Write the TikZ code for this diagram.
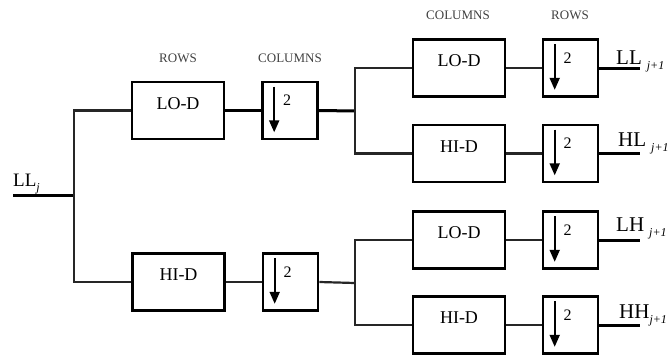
\documentclass[tikz,border=0pt]{standalone}
\usepackage{fontspec}
\setmainfont{Liberation Serif}
\usetikzlibrary{positioning, arrows.meta}

\newcommand{\lowsub}[1]{\raisebox{-5pt}{\fontsize{12}{13}\selectfont\itshape #1}}

\begin{document}
\begin{tikzpicture}[
    x=1pt, y=-1pt,
    every node/.style={font=\fontsize{18}{20}\selectfont},
    filter/.style={draw, line width=2.6pt, minimum width=92pt,
                   minimum height=57pt, inner sep=0pt},
    downbox/.style={draw, line width=2.6pt, minimum width=55pt,
                    minimum height=57pt, inner sep=0pt},
    stage/.style={font=\fontsize{13}{14}\selectfont, text=black!75},
    sig/.style={font=\fontsize{21}{23}\selectfont, anchor=base west,
                inner sep=0pt},
    wire/.style={line width=2.2pt, black!85},
    thickwire/.style={line width=3pt},
    down/.style={line width=2pt, -{Triangle[length=12pt, width=10pt]}},
]
\useasboundingbox (0,0) rectangle (668,356);

% First level (rows, then columns)
\node[filter, label={[yshift=7pt]center:LO-D}] (fa) at (178,110.5) {};
\node[downbox] (da) at (290,110.5) {};
\node[filter, label={[yshift=7pt]center:HI-D}] (fb) at (178.5,282) {};
\node[downbox] (db) at (290.5,282) {};

\node[stage] (rowsA) at (178,58) {ROWS};
\node[stage] (colsA) at (290,58) {COLUMNS};

% Second level (columns, then rows)
\node[filter, label={[yshift=7pt]center:LO-D}] (f1) at (459,68) {};
\node[downbox] (d1) at (570.5,68) {};
\node[filter, label={[yshift=7pt]center:HI-D}] (f2) at (459,153.5) {};
\node[downbox] (d2) at (570.5,153.5) {};
\node[filter, label={[yshift=7pt]center:LO-D}] (f3) at (459,240) {};
\node[downbox] (d3) at (570.5,240) {};
\node[filter, label={[yshift=7pt]center:HI-D}] (f4) at (459,325) {};
\node[downbox] (d4) at (570.5,325) {};

\node[stage] (colsB) at (458,15) {COLUMNS};
\node[stage] (rowsB) at (570,15) {ROWS};

% Downsampling marks
\foreach \b in {da,db,d1,d2,d3,d4} {
  \draw[down] ([xshift=13pt, yshift=-6pt]\b.north west)
           -- ([xshift=13pt, yshift=8pt]\b.south west);
  \node[font=\fontsize{16}{17}\selectfont, inner sep=0pt] (\b-two)
       at ([xshift=26pt, yshift=-20pt]\b.north west) {2};
}

% Signals
\coordinate (in) at (13,195);
\coordinate (split) at (74,195);
\coordinate (splitA) at (355,111);
\coordinate (splitB) at (355,283);
\coordinate (out1) at (640,68);
\coordinate (out2) at (640,153.5);
\coordinate (out3) at (640,240);
\coordinate (out4) at (640,325);

\node[sig, font=\fontsize{19}{21}\selectfont] (llj) at (13,186)
     {LL\lowsub{j}};
\node[sig] (ll) at (616,64) {LL\hspace{5pt}\lowsub{j+1}};
\node[sig] (hl) at (618,146) {HL\hspace{5pt}\lowsub{j+1}};
\node[sig] (lh) at (616,231) {LH\hspace{5pt}\lowsub{j+1}};
\node[sig] (hh) at (619,318) {HH\lowsub{j+1}};

% Connectors
\draw[thickwire] (in) -- (split);
\draw[wire] (split) |- (fa.west);
\draw[wire] (split) |- (fb.west);
\draw[thickwire] (fa) -- (da);
\draw[wire] (fb) -- (db);
\draw[thickwire] (da.east) -- (splitA);
\draw[wire] (db.east) -- (splitB);
\draw[wire] (splitA) |- (f1.west);
\draw[wire] (splitA) |- (f2.west);
\draw[wire] (splitB) |- (f3.west);
\draw[wire] (splitB) |- (f4.west);
\foreach \i in {1,2,3,4} {
  \draw[wire] (f\i) -- (d\i);
  \draw[thickwire] (d\i.east) -- (out\i);
}

\end{tikzpicture}
\end{document}
